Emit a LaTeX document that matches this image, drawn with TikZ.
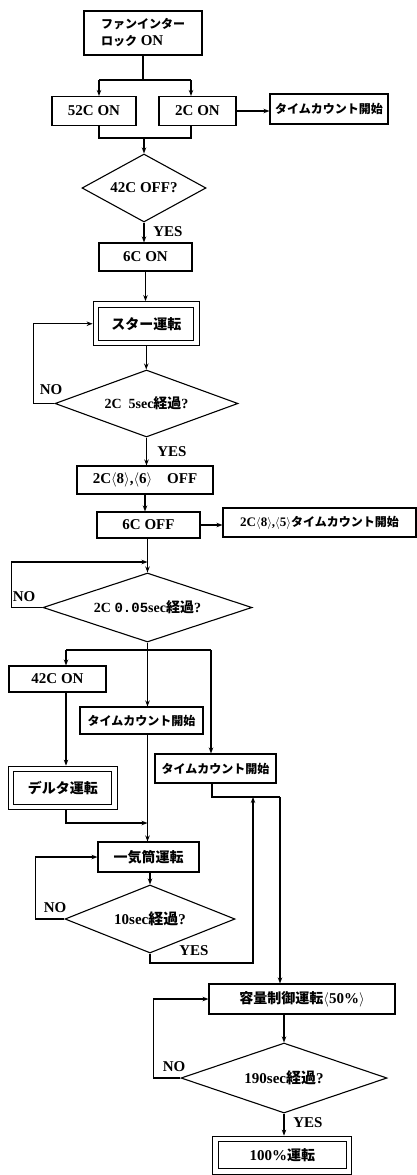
\documentclass[tikz,border=0pt]{standalone}
\usepackage{fontspec}
\setmainfont{Liberation Serif}
\newfontfamily\jpf{Noto Sans CJK JP}
\newfontfamily\monof{Liberation Mono}
\usetikzlibrary{shapes.geometric,arrows.meta}
\newcommand{\J}[1]{{\jpf #1}}
\newcommand{\Js}[1]{{\jpf\fontsize{12}{17}\selectfont #1}}
\newcommand{\Jm}[1]{{\jpf\fontsize{14}{17}\selectfont #1}}
\newcommand{\M}[1]{{\monof #1}}
\newcommand{\lan}{\ensuremath{\langle}}
\newcommand{\ran}{\ensuremath{\rangle}}
\begin{document}
\begin{tikzpicture}[x=1pt,y=-1pt, line width=1.1pt,
  >={Stealth[length=6pt,width=4.5pt]},
  every node/.style={font=\bfseries\fontsize{15}{17}\selectfont},
  box/.style={draw, rectangle, inner sep=1pt, align=center},
  dbox/.style={draw, rectangle, double, double distance=4.6pt, outer sep=3.4pt, inner sep=1pt},
  dec/.style={draw, diamond, aspect=2, inner sep=0pt},
  lbl/.style={inner sep=0pt}]
\fill[white] (0,0) rectangle (417,1175);
\useasboundingbox (0,0) rectangle (417,1175);

% nodes
\node[box, align=left, minimum width=118pt, minimum height=44pt] (top) at (143,33)
  {\Js{ファンインター}\\\Js{ロック} ON};
\node[box, minimum width=84pt, minimum height=29pt] (c52) at (94,111) {52C ON};
\node[box, minimum width=77pt, minimum height=29pt] (c2) at (197.5,111) {2C ON};
\node[box, minimum width=118pt, minimum height=30pt] (t1) at (329,109) {\Js{タイムカウント開始}};
\node[dec, minimum width=124pt, minimum height=68pt] (d1) at (144,188) {42C OFF?};
\node[box, minimum width=93pt, minimum height=28pt] (c6on) at (145.5,257) {6C ON};
\node[dbox, minimum width=100.5pt, minimum height=38.5pt] (star) at (146.25,323.75) {\Jm{スター運転}};
\node[dec, minimum width=183pt, minimum height=67pt] (d2) at (146.5,403.5)
  {\fontsize{14}{17}\selectfont 2C\ \ 5sec\J{経過}?};
\node[box, minimum width=136pt, minimum height=28pt] (off86) at (145,480)
  {2C\lan 8\ran,\lan 6\ran\quad OFF};
\node[box, minimum width=103pt, minimum height=26pt] (c6off) at (148.5,525) {6C OFF};
\node[box, minimum width=193pt, minimum height=29pt] (t2) at (319.5,522.5)
  {\fontsize{13}{17}\selectfont 2C\lan 8\ran,\lan 5\ran\Js{タイムカウント開始}};
\node[dec, minimum width=209pt, minimum height=69pt] (d3) at (147.5,607.5)
  {\fontsize{14}{17}\selectfont 2C \M{0.05}sec\J{経過}?};
\node[box, minimum width=97pt, minimum height=26pt] (c42on) at (57.5,679) {42C ON};
\node[box, minimum width=123pt, minimum height=27pt] (t3) at (141.5,720.5) {\Js{タイムカウント開始}};
\node[box, minimum width=121pt, minimum height=29pt] (t4) at (215.5,768.5) {\Js{タイムカウント開始}};
\node[dbox, minimum width=103.5pt, minimum height=38pt] (delta) at (62.75,788) {\Jm{デルタ運転}};
\node[box, minimum width=101pt, minimum height=30pt] (ichi) at (148.5,857) {\Jm{一気筒運転}};
\node[dec, minimum width=170pt, minimum height=68pt] (d4) at (150,919) {10sec\J{経過}?};
\node[box, minimum width=186pt, minimum height=30pt] (youryou) at (302,999)
  {\Jm{容量制御運転}\lan 50\%\ran};
\node[dec, minimum width=206pt, minimum height=70pt] (d5) at (284,1078) {190sec\J{経過}?};
\node[dbox, minimum width=133.5pt, minimum height=32.5pt] (b100) at (282.25,1155.25) {100\%\Jm{運転}};

% labels
\node[lbl] (yes1) at (168,231.5) {YES};
\node[lbl] (no1) at (51,390) {NO};
\node[lbl] (yes2) at (172,452) {YES};
\node[lbl] (no2) at (24,597) {NO};
\node[lbl] (no3) at (55,908) {NO};
\node[lbl] (yes3) at (194,951) {YES};
\node[lbl] (no4) at (174,1067) {NO};
\node[lbl] (yes4) at (308,1123) {YES};

% coordinates
\coordinate (j1) at (143,80);
\coordinate (s1) at (99,80);
\coordinate (s2) at (191,80);
\coordinate (m1) at (99,138);
\coordinate (m2) at (191,138);
\coordinate (m3) at (144,138);
\coordinate (j3) at (147.5,562);
\coordinate (k0) at (147.5,650);
\coordinate (k1) at (66,650);
\coordinate (k2) at (211,650);
\coordinate (k3) at (147.5,823);
\coordinate (r1) at (212,797);
\coordinate (r2) at (280,797);
\coordinate (y1) at (150,963);
\coordinate (y2) at (253,963);
\coordinate (y3) at (253,797);

% connectors
\draw (top.south) -- (j1);
\draw (s1) -- (s2);
\draw[->] (s1) -- (s1 |- c52.north);
\draw[->] (s2) -- (s2 |- c2.north);
\draw[->] (c2.east) -- (c2.east -| t1.west);
\draw (m1 |- c52.south) -- (m1) -- (m2) -- (m2 |- c2.south);
\draw[->] (m3) -- (d1.north);
\draw[->] (d1.south) -- (d1.south |- c6on.north);
\draw[->] (c6on.south) -- (c6on.south |- star.north);
\draw[->] (star.south) -- (star.south |- d2.north);
\draw[->] (d2.west) -- ++(-21,0) |- (star.west);
\draw[->] (d2.south) -- (d2.south |- off86.north);
\draw[->] (off86.south) -- (off86.south |- c6off.north);
\draw[->] (c6off.east) -- (c6off.east -| t2.west);
\draw[->] (c6off.south -| d3.north) -- (d3.north);
\draw[->] (d3.west) -- ++(-31,0) |- (j3);
\draw (d3.south) -- (k0);
\draw (k1) -- (k2);
\draw[->] (k1) -- (k1 |- c42on.north);
\draw[->] (k0) -- (k0 |- t3.north);
\draw[->] (k2) -- (k2 |- t4.north);
\draw[->] (k1 |- c42on.south) -- (k1 |- delta.north);
\draw[->] (k1 |- delta.south) -- (k1 |- k3) -- (k3);
\draw[->] (k0 |- t3.south) -- (k0 |- ichi.north);
\draw (r1 |- t4.south) -- (r1) -- (r2);
\draw[->] (r2) -- (r2 |- youryou.north);
\draw[->] (ichi.south -| d4.north) -- (d4.north);
\draw[->] (d4.south) -- (y1) -- (y2) -- (y3);
\draw[->] (d4.west) -- ++(-29,0) |- (ichi.west);
\draw[->] (youryou.south -| d5.north) -- (d5.north);
\draw[->] (d5.west) -- ++(-27,0) |- (youryou.west);
\draw[->] (d5.south) -- (d5.south |- b100.north);
\end{tikzpicture}
\end{document}
